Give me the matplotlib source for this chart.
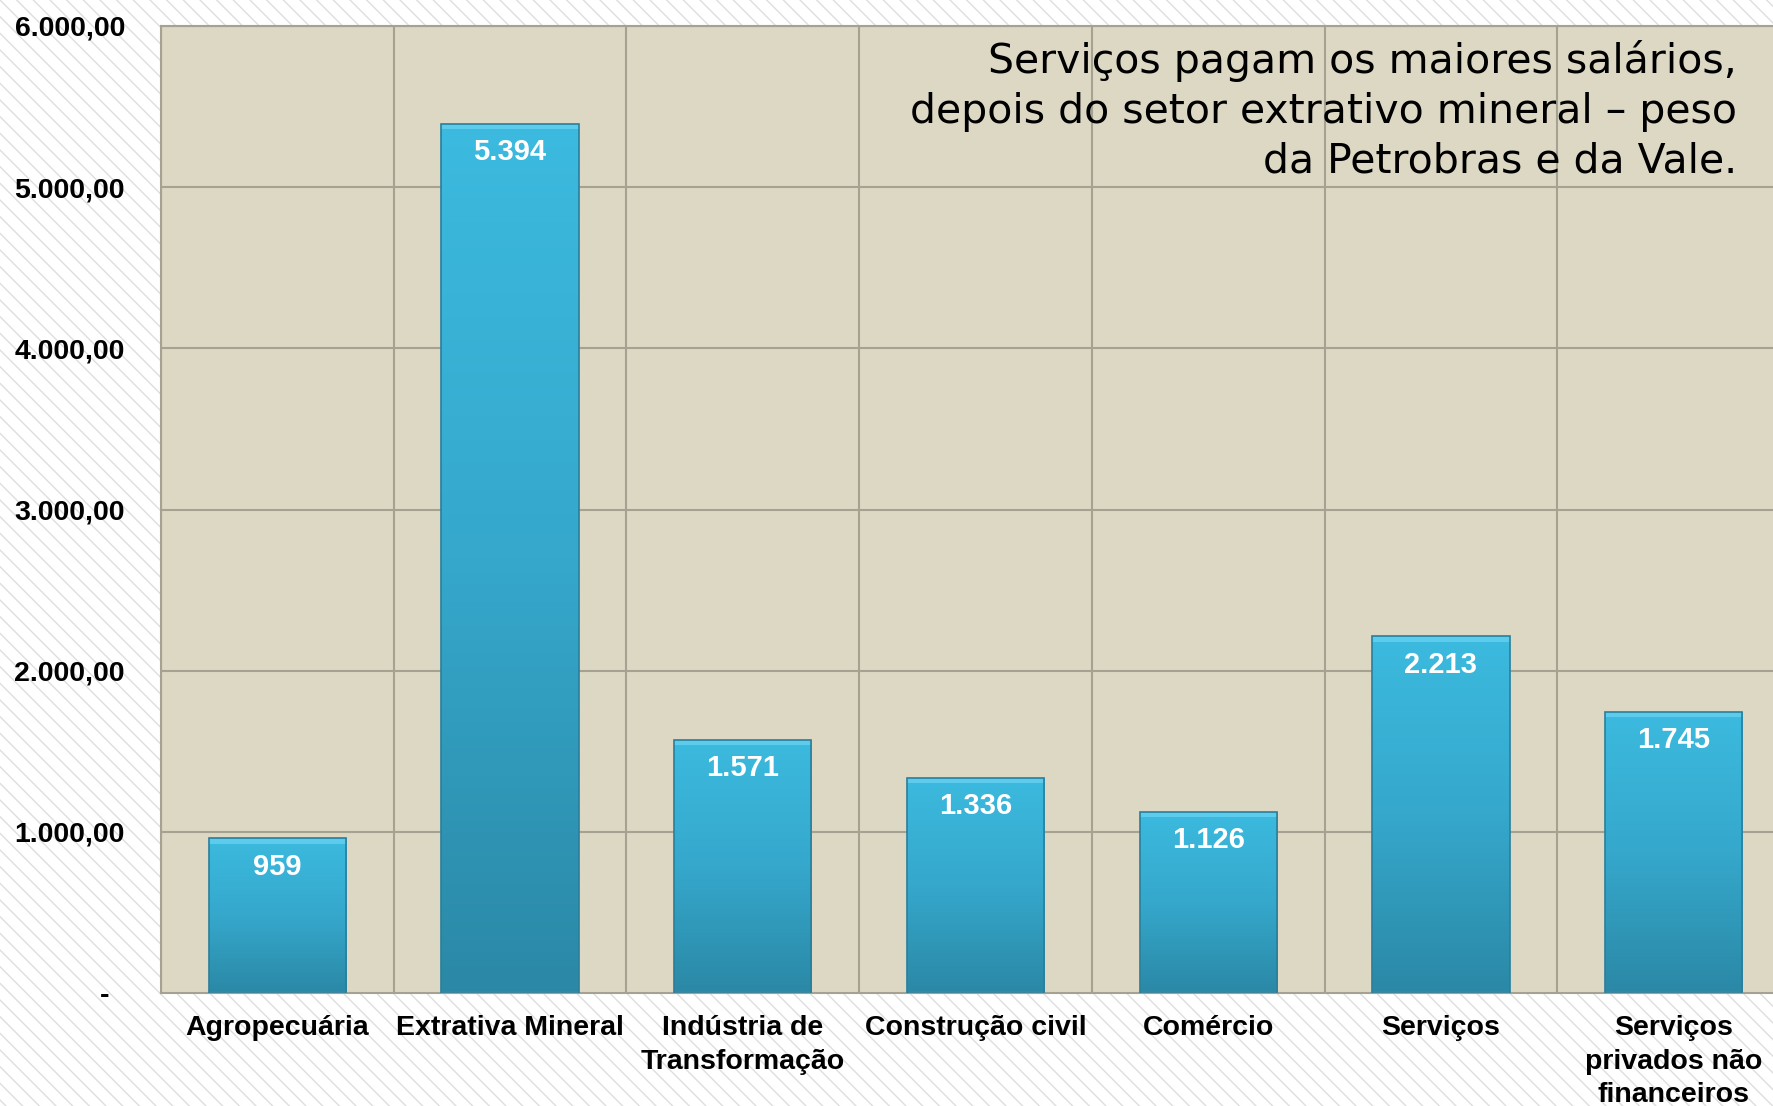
import numpy as np
import matplotlib
matplotlib.use("Agg")
import matplotlib.pyplot as plt
from matplotlib.patches import Rectangle
from matplotlib.colors import LinearSegmentedColormap

categories = ["Agropecuária", "Extrativa Mineral", "Indústria de\nTransformação",
              "Construção civil", "Comércio", "Serviços",
              "Serviços\nprivados não\nfinanceiros"]
values = [959, 5394, 1571, 1336, 1126, 2213, 1745]
value_labels = ["959", "5.394", "1.571", "1.336", "1.126", "2.213", "1.745"]
yticks = [0, 1000, 2000, 3000, 4000, 5000, 6000]
ytick_labels = ["-  ", "1.000,00", "2.000,00", "3.000,00", "4.000,00", "5.000,00", "6.000,00"]
note = ("Serviços pagam os maiores salários,\n"
        "depois do setor extrativo mineral – peso\n"
        "da Petrobras e da Vale.")

plt.rcParams["font.family"] = ["Liberation Sans", "DejaVu Sans"]
plt.rcParams["hatch.linewidth"] = 1.0

fig = plt.figure(figsize=(17.74, 11.06), dpi=100)
fig.patch.set_facecolor("white")
bg = Rectangle((0, 0), 1, 1, transform=fig.transFigure, facecolor="white",
               edgecolor="#dedede", hatch="\\\\", lw=0, zorder=-10)
fig.patches.append(bg)

ax = fig.add_axes([161 / 1774, 113 / 1106, 1629 / 1774, 967 / 1106])
ax.set_facecolor("#ddd8c4")

grid_c = "#a6a292"
for y in yticks[1:]:
    ax.axhline(y, color=grid_c, lw=1.5, zorder=1)
for x in np.arange(-0.5, len(categories), 1.0):
    ax.axvline(x, color=grid_c, lw=1.5, zorder=1)

# per-bar vertical gradient, dark at the base
cmap = LinearSegmentedColormap.from_list("bar", ["#2b88a6", "#35a8cc", "#3cbadf"])
grad = np.linspace(0, 1, 256).reshape(-1, 1)
width = 0.59
bars = ax.bar(range(len(values)), values, width=width, color="none",
              edgecolor="#2a7f9c", lw=1.2, zorder=3)
for bar, lab in zip(bars, value_labels):
    x0, h = bar.get_x(), bar.get_height()
    im = ax.imshow(grad, cmap=cmap, aspect="auto", origin="lower",
                   extent=(x0, x0 + width, 0, h), zorder=2)
    im.set_clip_path(bar)
    ax.bar(x0 + width / 2, 35, bottom=h - 35, width=width,
           color="#5ccbec", lw=0, zorder=2.5)
    ax.annotate(lab, (x0 + width / 2, h), xytext=(0, -20.5),
                textcoords="offset points", ha="center", va="center",
                color="white", fontsize=21, fontweight="bold", zorder=4)

ax.set_xlim(-0.5, len(categories) - 0.5)
ax.set_ylim(0, 6000)
ax.set_xticks(range(len(categories)))
ax.set_xticklabels(categories, fontsize=20.5, fontweight="bold", linespacing=1.38)
ax.set_yticks(yticks)
ax.set_yticklabels(ytick_labels, fontsize=20.5, fontweight="bold")
ax.tick_params(axis="both", length=0)
ax.tick_params(axis="x", pad=16)
ax.tick_params(axis="y", pad=26)
for s in ax.spines.values():
    s.set_color(grid_c)
    s.set_linewidth(1.5)

fig.text(1737 / 1774, 1 - 40 / 1106, note, ha="right", va="top",
         fontsize=29.5, family="DejaVu Sans", linespacing=1.32, color="black")

fig.savefig("out.png", dpi=100)
